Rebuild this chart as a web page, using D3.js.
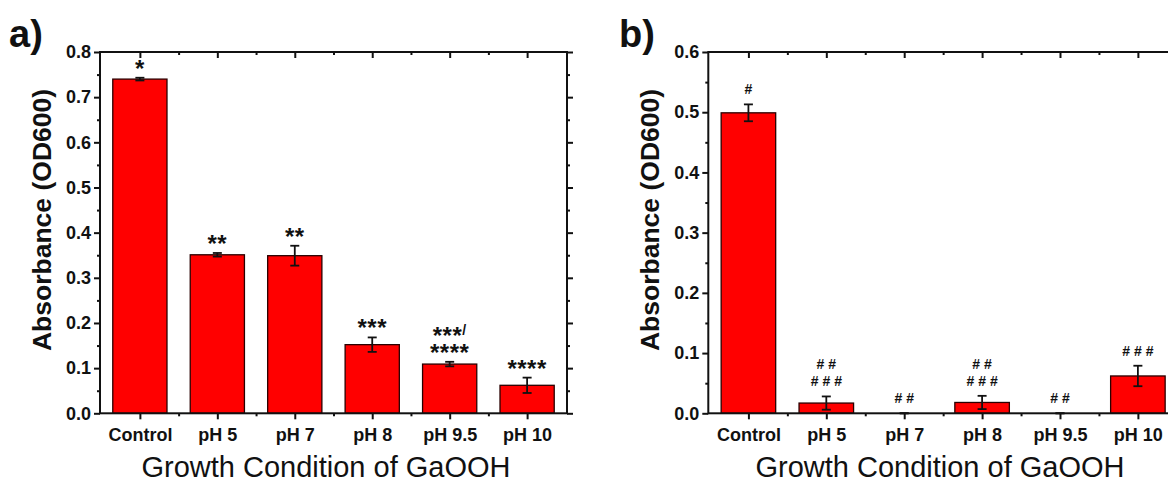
<!DOCTYPE html>
<html>
<head>
<meta charset="utf-8">
<script src="https://cdn.jsdelivr.net/npm/d3@7"></script>
<style>
  html, body { margin: 0; padding: 0; background: #fff; }
  svg { display: block; }
  text { font-family: "Liberation Sans", Arial, Helvetica, sans-serif; fill: #111; }
</style>
</head>
<body>
<svg id="fig" width="1168" height="482"></svg>
<script>
// Growth conditions shared by both panels
const categories = ["Control", "pH 5", "pH 7", "pH 8", "pH 9.5", "pH 10"];

// Panel a: absorbance (OD600), standard deviation and significance marks
const absorbanceA = [0.740, 0.351, 0.349, 0.152, 0.109, 0.062];
const errorA      = [0.003, 0.004, 0.022, 0.016, 0.005, 0.017];
const marksA      = [["*"], ["**"], ["**"], ["***"], ["***/", "****"], ["****"]];
const yTicksA     = [0, 0.1, 0.2, 0.3, 0.4, 0.5, 0.6, 0.7, 0.8];

// Panel b: absorbance (OD600), standard deviation and significance marks
const absorbanceB = [0.499, 0.017, 0.000, 0.018, 0.000, 0.062];
const errorB      = [0.014, 0.011, 0.000, 0.011, 0.000, 0.017];
const marksB      = [["#"], ["##", "###"], ["##"], ["##", "###"], ["##"], ["###"]];
const yTicksB     = [0, 0.1, 0.2, 0.3, 0.4, 0.5, 0.6];

const svg = d3.select("#fig");

function drawPanel(cfg) {
  const { left, right, top, bottom, values, errors, marks, yTicks, tag, tagX, titleX } = cfg;
  const g = svg.append("g");

  const x = d3.scalePoint().domain(categories).range([left, right]).padding(0.515);
  const yMax = yTicks[yTicks.length - 1];
  const y = d3.scaleLinear().domain([0, yMax]).range([bottom, top]);
  const step = x.step();
  const barW = step * 0.70;

  // minor tick positions: halfway between major ticks
  const yMinor = yTicks.slice(0, -1).map((d, i) => (d + yTicks[i + 1]) / 2);
  const xMinor = categories.slice(0, -1).map((c, i) => (x(c) + x(categories[i + 1])) / 2);

  // bars
  g.selectAll("rect.bar").data(values).join("rect")
    .attr("class", "bar")
    .attr("x", (d, i) => x(categories[i]) - barW / 2)
    .attr("width", barW)
    .attr("y", d => y(d))
    .attr("height", d => y(0) - y(d))
    .attr("fill", "#ff0000")
    .attr("stroke", "#2a0000")
    .attr("stroke-width", 1.3);

  // error bars
  const eb = g.selectAll("g.err").data(values).join("g").attr("class", "err")
    .attr("stroke", "#111").attr("stroke-width", 1.8);
  eb.append("line")
    .attr("x1", (d, i) => x(categories[i])).attr("x2", (d, i) => x(categories[i]))
    .attr("y1", (d, i) => y(d - errors[i])).attr("y2", (d, i) => y(d + errors[i]));
  [1, -1].forEach(s => {
    eb.append("line")
      .attr("x1", (d, i) => x(categories[i]) - 4.5).attr("x2", (d, i) => x(categories[i]) + 4.5)
      .attr("y1", (d, i) => y(d + s * errors[i])).attr("y2", (d, i) => y(d + s * errors[i]));
  });

  // axes: major ticks outward on left/bottom, mirrored inward on top/right
  const styleAxis = sel => {
    sel.select(".domain").remove();
    sel.selectAll(".tick line").attr("stroke", "#111").attr("stroke-width", 2);
  };
  g.append("g").attr("transform", `translate(${left},0)`)
    .call(d3.axisLeft(y).tickValues(yTicks).tickSize(6).tickPadding(3).tickFormat(d3.format(".1f")))
    .call(styleAxis)
    .selectAll("text").attr("font-size", 18).attr("font-weight", "bold");
  g.append("g").attr("transform", `translate(${left},0)`)
    .call(d3.axisLeft(y).tickValues(yMinor).tickSize(3).tickFormat(""))
    .call(styleAxis);
  g.append("g").attr("transform", `translate(${right},0)`)
    .call(d3.axisLeft(y).tickValues(yTicks).tickSize(-6).tickFormat(""))
    .call(styleAxis);
  g.append("g").attr("transform", `translate(${right},0)`)
    .call(d3.axisLeft(y).tickValues(yMinor).tickSize(-3).tickFormat(""))
    .call(styleAxis);

  g.append("g").attr("transform", `translate(0,${bottom})`)
    .call(d3.axisBottom(x).tickSize(6).tickPadding(8.5))
    .call(styleAxis)
    .selectAll("text").attr("font-size", 18).attr("font-weight", "bold");
  const xm = d3.scaleIdentity();
  g.append("g").attr("transform", `translate(0,${bottom})`)
    .call(d3.axisBottom(xm).tickValues(xMinor).tickSize(3).tickFormat(""))
    .call(styleAxis);
  g.append("g").attr("transform", `translate(0,${top})`)
    .call(d3.axisTop(x).tickSize(-6).tickFormat(""))
    .call(styleAxis);
  g.append("g").attr("transform", `translate(0,${top})`)
    .call(d3.axisTop(xm).tickValues(xMinor).tickSize(-3).tickFormat(""))
    .call(styleAxis);

  // frame
  g.append("rect")
    .attr("x", left).attr("y", top)
    .attr("width", right - left).attr("height", bottom - top)
    .attr("fill", "none").attr("stroke", "#111").attr("stroke-width", 2);

  // significance marks above each error bar; stacked lines share one text element
  values.forEach((v, i) => {
    const cx = x(categories[i]);
    const lines = marks[i];
    const isStar = lines[0].includes("*");
    const lineGap = 17;
    const bottomCenter = y(v + errors[i]) - 15;
    const topCenter = bottomCenter - (lines.length - 1) * lineGap;
    // baseline offset from the visual centre of the glyphs
    const baseOff = isStar ? 14 : 5;
    const t = g.append("text")
      .attr("text-anchor", "middle")
      .attr("font-weight", "bold")
      .attr("font-size", isStar ? 24 : 14)
      .attr("letter-spacing", isStar ? 0.5 : 4);
    lines.forEach((txt, j) => {
      const xPos = isStar ? cx : cx + 2;
      const baseY = topCenter + baseOff + j * lineGap;
      t.append("tspan")
        .attr("x", xPos)
        .attr("y", baseY)
        .text(txt.replace("/", ""));
      if (txt.includes("/")) {
        // small slash raised to the asterisks' centre, same text chunk
        t.append("tspan").attr("font-size", 14).attr("dy", -9).text("/");
      }
    });
  });

  // axis titles
  g.append("text")
    .attr("transform", `translate(${left - 49},220) rotate(-90)`)
    .attr("text-anchor", "middle")
    .attr("font-size", 26.5).attr("font-weight", "bold")
    .text("Absorbance (OD600)");
  g.append("text")
    .attr("x", titleX).attr("y", 477)
    .attr("text-anchor", "middle")
    .attr("font-size", 29)
    .text("Growth Condition of GaOOH");

  // panel tag
  g.append("text")
    .attr("x", tagX).attr("y", 47)
    .attr("font-size", 38).attr("font-weight", "bold")
    .text(tag);
}

drawPanel({ left: 100, right: 567, top: 52, bottom: 413.3,
  values: absorbanceA, errors: errorA, marks: marksA, yTicks: yTicksA,
  tag: "a)", tagX: 9, titleX: 326 });
drawPanel({ left: 708.3, right: 1178, top: 52, bottom: 413.3,
  values: absorbanceB, errors: errorB, marks: marksB, yTicks: yTicksB,
  tag: "b)", tagX: 619, titleX: 940 });
</script>
</body>
</html>
